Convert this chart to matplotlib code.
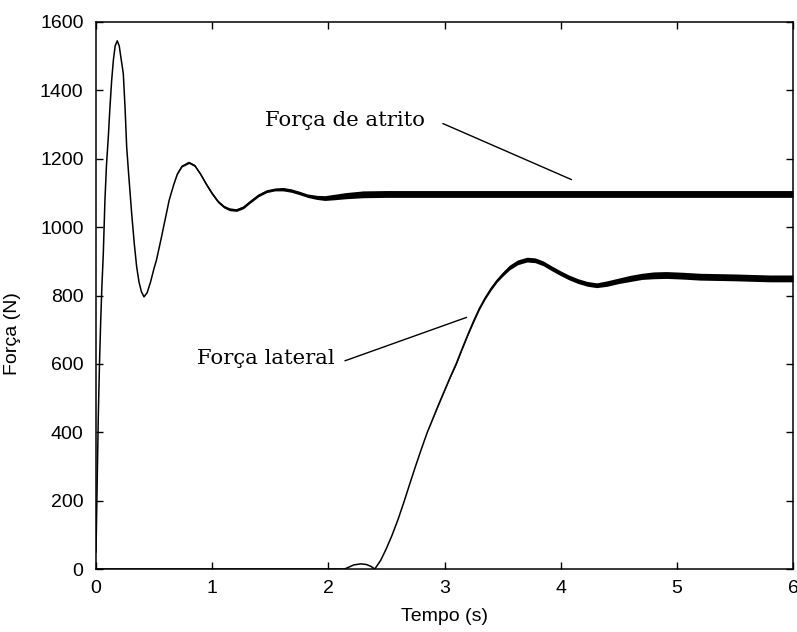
import matplotlib
matplotlib.use("Agg")
import matplotlib.pyplot as plt
import numpy as np

# ---- data ----
t_atrito = [0, 0.01, 0.02, 0.03, 0.04, 0.05, 0.063, 0.077, 0.09, 0.106, 0.12, 0.135,
            0.15, 0.165, 0.183, 0.20, 0.215, 0.235, 0.25, 0.264, 0.28, 0.307, 0.33,
            0.35, 0.37, 0.39, 0.413, 0.44, 0.47, 0.50, 0.52, 0.56, 0.60, 0.63, 0.67,
            0.70, 0.74, 0.80, 0.85, 0.90, 0.95, 1.00, 1.05, 1.10, 1.15, 1.21, 1.27,
            1.33, 1.40, 1.47, 1.54, 1.61, 1.68, 1.75, 1.82, 1.90, 1.97, 2.05, 2.15,
            2.30, 2.50, 3.0, 4.0, 5.0, 6.0]
f_atrito = [50, 250, 450, 600, 720, 820, 924, 1079, 1180, 1264, 1350, 1430,
            1490, 1530, 1545, 1530, 1495, 1449, 1350, 1235, 1160, 1040, 950,
            884, 840, 812, 796, 808, 840, 880, 903, 965, 1030, 1079, 1125,
            1155, 1178, 1189, 1180, 1155, 1125, 1098, 1075, 1060, 1052, 1050, 1058,
            1075, 1093, 1105, 1110, 1111, 1107, 1100, 1092, 1087, 1085, 1088, 1092,
            1096, 1097, 1097, 1097, 1097, 1097]
# amplitude of the high-frequency ripple around each point (N)
r_atrito = [0, 0, 0, 0, 0, 0, 0, 0, 0, 0, 0, 0,
            0, 0, 0, 0, 0, 0, 0, 0, 0, 0, 0,
            0, 0, 0, 0, 0, 0, 0, 0, 0, 0, 0, 0,
            1, 2, 3, 3, 3, 4, 4, 4, 4, 4, 4, 4,
            4, 4, 4, 4, 5, 5, 5, 5, 6, 7, 8, 9,
            10, 10, 10, 10, 10, 10]

t_lateral = [0, 2.14, 2.18, 2.22, 2.28, 2.33, 2.37, 2.40, 2.45, 2.50, 2.55, 2.60,
             2.65, 2.70, 2.75, 2.80, 2.85, 2.90, 2.95, 3.00, 3.05, 3.10, 3.15,
             3.20, 3.25, 3.30, 3.35, 3.40, 3.45, 3.50, 3.56, 3.63, 3.71, 3.78,
             3.85, 3.92, 4.00, 4.07, 4.15, 4.23, 4.31, 4.40, 4.50, 4.60, 4.70,
             4.80, 4.91, 5.05, 5.20, 5.50, 5.80, 6.0]
f_lateral = [0, 0, 6, 12, 15, 13, 7, 0, 25, 60, 100, 145,
             195, 248, 300, 350, 398, 440, 482, 522, 562, 600, 643,
             685, 725, 762, 793, 820, 843, 862, 882, 897, 905, 903,
             894, 880, 865, 853, 842, 834, 830, 835, 843, 850, 856,
             859, 860, 858, 855, 853, 850, 850]
r_lateral = [0, 0, 0, 0, 0, 0, 0, 0, 0, 0, 0, 0,
             0, 0, 0, 0, 0, 1, 2, 2, 2, 3, 3,
             3, 4, 4, 4, 5, 5, 6, 7, 7, 7, 7,
             7, 7, 7, 7, 7, 7, 7, 8, 8, 9, 9,
             10, 10, 10, 10, 10, 10, 10]

x_ticks = [0, 1, 2, 3, 4, 5, 6]
y_ticks = [0, 200, 400, 600, 800, 1000, 1200, 1400, 1600]

label_atrito = "Força de atrito"
label_lateral = "Força lateral"

# ---- figure ----
fig = plt.figure(figsize=(7.97, 6.32), dpi=100)
ax = fig.add_axes([96/797, 1-569/632, (793-96)/797, (569-22)/632])

lw = 1.1
for t, f, r in [(t_atrito, f_atrito, r_atrito), (t_lateral, f_lateral, r_lateral)]:
    t = np.asarray(t); f = np.asarray(f); r = np.asarray(r)
    ax.fill_between(t, f - r, f + r, color="black", lw=0)
    ax.plot(t, f, color="black", lw=lw, solid_joinstyle="round")

ax.set_xlim(0, 6)
ax.set_ylim(0, 1600)
ax.set_xticks(x_ticks)
ax.set_yticks(y_ticks)

tick_font = dict(family="Liberation Sans", size=14)
ax.set_xticklabels([str(v) for v in x_ticks], **tick_font)
ax.set_yticklabels([str(v) for v in y_ticks], **tick_font)
ax.tick_params(direction="in", length=5, width=1.0, top=True, right=True,
               color="black")
ax.tick_params(axis="y", pad=9)
ax.tick_params(axis="x", pad=8)
for s in ax.spines.values():
    s.set_linewidth(1.1)

ax.set_xlabel("Tempo (s)", fontfamily="Liberation Sans", fontsize=14)
ax.set_ylabel("Força (N)", fontfamily="Liberation Sans", fontsize=14)
ax.xaxis.set_label_coords(0.5, -0.072)
ax.yaxis.set_label_coords(-0.107, 0.43)

serif = dict(family="DejaVu Serif", size=15.3, va="center", ha="left")
ax.text(1.454, 1313, label_atrito, **serif)
ax.annotate("", xy=(4.093, 1139), xytext=(2.986, 1303),
            arrowprops=dict(arrowstyle="-", lw=1.0, color="black",
                            shrinkA=0, shrinkB=0))
ax.text(0.869, 617, label_lateral, **serif)
ax.annotate("", xy=(3.19, 736), xytext=(2.143, 609),
            arrowprops=dict(arrowstyle="-", lw=1.0, color="black",
                            shrinkA=0, shrinkB=0))

fig.savefig("out.png", dpi=100)
